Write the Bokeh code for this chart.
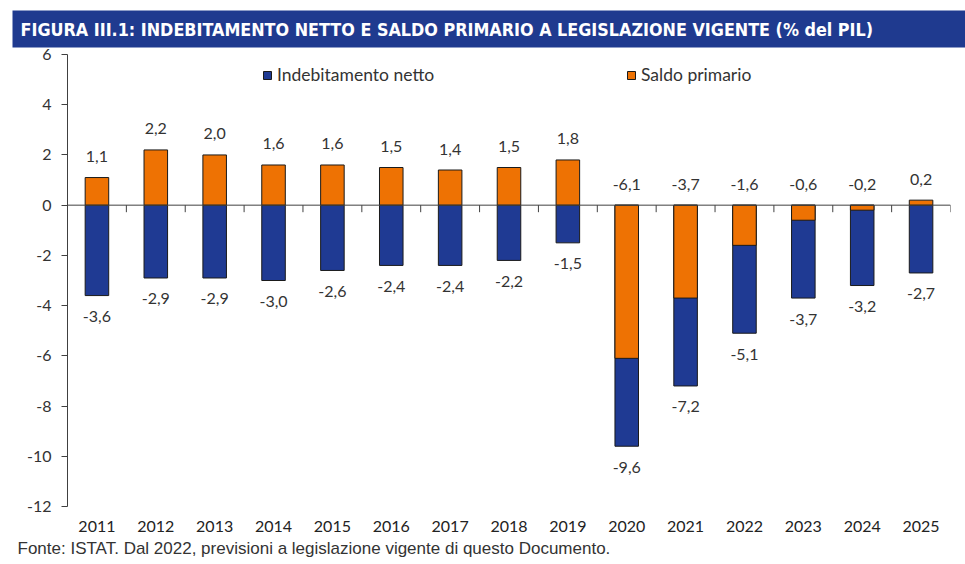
from bokeh.plotting import figure
from bokeh.models import (ColumnDataSource, FixedTicker, Range1d, Span,
                          Legend, LegendItem, Title)
from bokeh.core.properties import value
from bokeh.embed import file_html
from bokeh.resources import INLINE

# ---- data ----
years = ["2011", "2012", "2013", "2014", "2015", "2016", "2017", "2018",
         "2019", "2020", "2021", "2022", "2023", "2024", "2025"]
indebitamento_netto = [-3.6, -2.9, -2.9, -3.0, -2.6, -2.4, -2.4, -2.2,
                       -1.5, -9.6, -7.2, -5.1, -3.7, -3.2, -2.7]
saldo_primario = [1.1, 2.2, 2.0, 1.6, 1.6, 1.5, 1.4, 1.5,
                  1.8, -6.1, -3.7, -1.6, -0.6, -0.2, 0.2]
y_ticks = [-12, -10, -8, -6, -4, -2, 0, 2, 4, 6]
title_text = "FIGURA III.1: INDEBITAMENTO NETTO E SALDO PRIMARIO A LEGISLAZIONE VIGENTE (% del PIL)"
source_text = "Fonte: ISTAT. Dal 2022, previsioni a legislazione vigente di questo Documento."

BLUE = "#1F3A93"
ORANGE = "#EE7203"
BANNER = "#1F3A8F"
TXT = "#333333"
FONT = "Lato"

W, H = 965, 564
LEFT, RIGHT = 67, 15
xs = list(range(len(years)))


def fmt(v):
    return f"{v:.1f}".replace(".", ",")


src = ColumnDataSource(dict(
    x=xs,
    ind=indebitamento_netto,
    sal=saldo_primario,
    ind_lbl=[fmt(v) for v in indebitamento_netto],
    sal_lbl=[fmt(v) for v in saldo_primario],
    sal_top=[max(v, 0) for v in saldo_primario],
    tick_x=[i + 0.5 for i in xs],
))

p = figure(width=W, height=H, x_range=Range1d(-0.5, len(years) - 0.5),
           y_range=Range1d(-12, 6), output_backend="svg", toolbar_location=None,
           min_border_left=LEFT, min_border_right=RIGHT, min_border_top=54,
           min_border_bottom=58)
p.outline_line_color = None
p.grid.visible = False
p.background_fill_color = "white"
p.border_fill_color = "white"

# banner title
p.title.text = title_text
p.title.align = "left"
p.title.offset = 12 - LEFT
p.title.standoff = 14
p.title.text_color = "white"
p.title.text_font = "DejaVu Sans Condensed"
p.title.text_font_style = "bold"
p.title.text_font_size = "17.8px"
p.title.background_fill_color = BANNER
p.title.padding = (8, 98, 8, 8)

r_ind = p.vbar(x="x", top="ind", bottom=0, width=0.4, source=src,
               fill_color=BLUE, line_color="#1a1a1a", line_width=1)
r_sal = p.vbar(x="x", top="sal", bottom=0, width=0.4, source=src,
               fill_color=ORANGE, line_color="#1a1a1a", line_width=1)

# zero line with category-boundary ticks
p.add_layout(Span(location=0, dimension="width", line_color="#404040", line_width=1))
p.segment(x0="tick_x", y0=0, x1="tick_x", y1=-0.28, source=src,
          line_color="#404040", line_width=1)

p.text(x="x", y="sal_top", text="sal_lbl", source=src, y_offset=-21,
       text_align="center", text_baseline="middle", text_font=value(FONT),
       text_font_size="16px", text_color=TXT)
p.text(x="x", y="ind", text="ind_lbl", source=src, y_offset=21,
       text_align="center", text_baseline="middle", text_font=value(FONT),
       text_font_size="16px", text_color=TXT)

# y axis
p.yaxis.ticker = FixedTicker(ticks=y_ticks)
p.yaxis.major_label_overrides = {t: str(t) for t in y_ticks}
p.yaxis.axis_line_color = "#404040"
p.yaxis.major_tick_line_color = "#404040"
p.yaxis.major_tick_out = 6
p.yaxis.major_tick_in = 0
p.yaxis.minor_tick_line_color = None
p.yaxis.major_label_text_font = FONT
p.yaxis.major_label_text_font_size = "16px"
p.yaxis.major_label_text_color = TXT
p.yaxis.major_label_standoff = 10

# x axis (year labels at bottom)
p.xaxis.ticker = FixedTicker(ticks=xs)
p.xaxis.major_label_overrides = {i: y for i, y in zip(xs, years)}
p.xaxis.axis_line_color = None
p.xaxis.major_tick_line_color = None
p.xaxis.major_tick_out = 0
p.xaxis.major_tick_in = 0
p.xaxis.minor_tick_line_color = None
p.xaxis.major_label_text_font = FONT
p.xaxis.major_label_text_font_size = "16px"
p.xaxis.major_label_text_color = "#222222"
p.xaxis.major_label_standoff = 14

# legend
leg1 = Legend(items=[LegendItem(label="Indebitamento netto", renderers=[r_ind])],
              location=(195, 421))
leg2 = Legend(items=[LegendItem(label="Saldo primario", renderers=[r_sal])],
              location=(559, 421))
for lg in (leg1, leg2):
    lg.glyph_width = 10
    lg.glyph_height = 10
    lg.label_standoff = 5
    lg.padding = 0
    lg.margin = 0
    lg.spacing = 0
    lg.border_line_color = None
    lg.background_fill_alpha = 0
    lg.label_text_font = FONT
    lg.label_text_font_size = "17.5px"
    lg.label_text_color = TXT
    p.add_layout(lg)

# source note below the chart
p.add_layout(Title(text=source_text, align="left", offset=17 - LEFT, standoff=5,
                   text_font="Liberation Sans", text_font_style="normal",
                   text_font_size="17px", text_color=TXT), "below")

open("out.html", "w").write(file_html(p, INLINE))
